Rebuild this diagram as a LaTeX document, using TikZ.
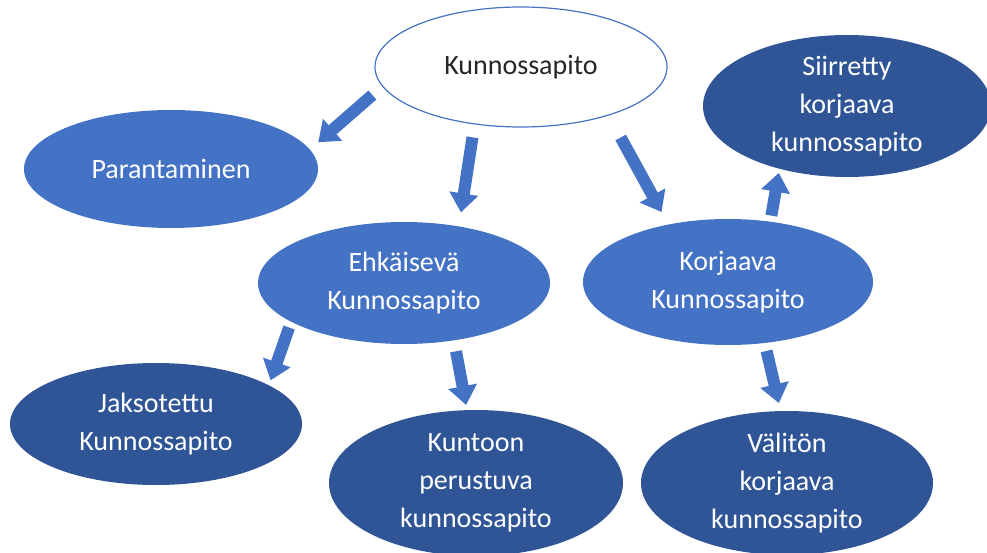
\documentclass[tikz,border=0pt]{standalone}
\usepackage{fontspec}
\setmainfont{Carlito}
\usetikzlibrary{shapes.geometric,arrows.meta}
\definecolor{lightblue}{RGB}{68,114,196}
\definecolor{darkblue}{RGB}{47,85,151}

\begin{document}
\begin{tikzpicture}[x=1pt,y=-1pt,
  oval/.style={ellipse,inner sep=0pt,align=center,font=\fontsize{28}{38}\selectfont},
  light/.style={oval,fill=lightblue,text=white},
  dark/.style={oval,fill=darkblue,text=white},
  blockarrow/.style={lightblue,line width=12pt,-{Triangle[width=28pt,length=19pt]}}]
\useasboundingbox (0,0) rectangle (987,553);
\node [oval,draw=lightblue,line width=1.2pt,fill=white,text=black!85,minimum width=292pt,minimum height=120pt] (top) at (521,67) {Kunnossapito};
\node [light,minimum width=294pt,minimum height=118pt] (par) at (171,169) {Parantaminen};
\node [light,minimum width=292pt,minimum height=122pt] (ehk) at (404,283) {Ehkäisevä\\Kunnossapito};
\node [light,minimum width=290pt,minimum height=126pt] (kor) at (728,282) {Korjaava\\Kunnossapito};
\node [dark,minimum width=288pt,minimum height=142pt] (sii) at (847,106) {Siirretty\\korjaava\\kunnossapito};
\node [dark,minimum width=292pt,minimum height=122pt] (jak) at (156,424) {Jaksotettu\\Kunnossapito};
\node [dark,minimum width=294pt,minimum height=146pt] (kun) at (476,483) {Kuntoon\\perustuva\\kunnossapito};
\node [dark,minimum width=292pt,minimum height=144pt] (val) at (787,483) {Välitön\\korjaava\\kunnossapito};
% block arrows
\draw [blockarrow,shorten <=13pt,shorten >=11pt] (top.188.6) -- (par.8.65);
\draw [blockarrow,shorten <=13pt,shorten >=14pt] (top.231.8) -- (ehk.46.7);
\draw [blockarrow,shorten <=25pt,shorten >=14pt] (top.331.7) -- (kor.136);
\draw [blockarrow,shorten <=6pt,shorten >=4pt] (kor.55.3) -- (sii.223.6);
\draw [blockarrow,shorten <=6pt,shorten >=5pt] (ehk.199.4) -- (jak.19.9);
\draw [blockarrow,shorten <=11pt,shorten >=5pt] (ehk.311.3) -- (kun.97.9);
\draw [blockarrow,shorten <=8pt,shorten >=8pt] (kor.301.5) -- (val.95.8);
\end{tikzpicture}
\end{document}
